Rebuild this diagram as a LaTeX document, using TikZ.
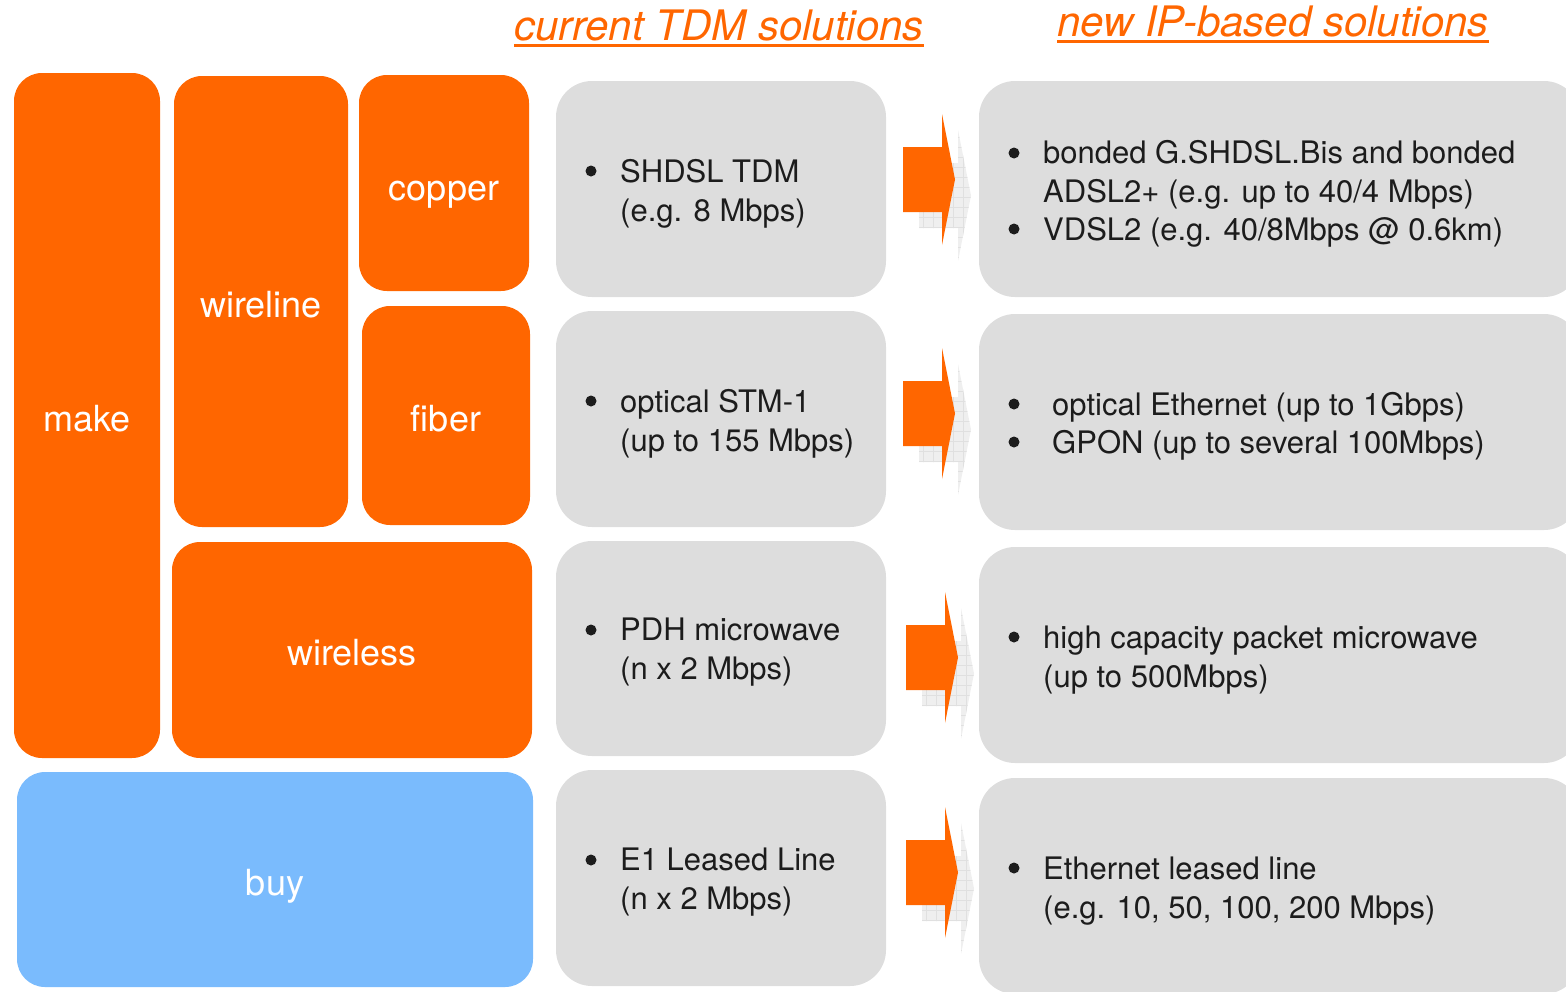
\documentclass[tikz,border=0pt]{standalone}
\usepackage{fontspec}
\setmainfont{TeX Gyre Heros}
\definecolor{brand}{HTML}{FF6600}
\definecolor{cardgray}{HTML}{DDDDDD}
\definecolor{skyblue}{HTML}{7ABBFD}
\definecolor{ink}{HTML}{1C1C1C}
\definecolor{ghost}{HTML}{EFEFEF}
\definecolor{ghostline}{HTML}{E0E0E0}
\tikzset{
  % fixed text height/depth so each label's baseline sits 15.5pt below the centre
  tile/.style={inner sep=0pt, rounded corners=28pt, fill=brand, text=white,
               text height=31pt, text depth=0pt,
               font=\fontsize{36}{40}\selectfont},
  card/.style={inner sep=0pt, rounded corners=36pt, fill=cardgray},
  % multi-line nodes: the base anchor sits on the last line
  body/.style={anchor=base west, align=left, text=ink, inner sep=0pt,
               font=\fontsize{31}{38.5}\selectfont},
  dot/.style={circle, fill=ink, inner sep=0pt, minimum size=11pt},
  head/.style={anchor=base west, text=brand, inner sep=0pt,
               font=\fontsize{42}{46}\selectfont\itshape},
  rule/.style={draw=brand, line width=3pt},
}
% block arrow with a faint checkered shadow; #1 = left x, #2 = top of shaft
\newcommand\fatarrow[2]{%
  \begin{scope}[shift={(#1,#2)}]
    \path[fill=ghost] (16,16) -- (55,16) -- (55,-17) -- (68,48.5) -- (55,114)
      -- (55,81) -- (16,81) -- cycle;
    \begin{scope}
      \clip (16,16) -- (55,16) -- (55,-17) -- (68,48.5) -- (55,114)
        -- (55,81) -- (16,81) -- cycle;
      \draw[ghostline, line width=0.6pt, step=10pt] (10,-20) grid (70,120);
    \end{scope}
    \path[fill=brand] (0,0) -- (39,0) -- (39,-33) -- (52,32.5) -- (39,98)
      -- (39,65) -- (0,65) -- cycle;
  \end{scope}}
\begin{document}
\begin{tikzpicture}[x=1pt, y=-1pt]
\useasboundingbox (0,0) rectangle (1566,991);
\clip (0,0) rectangle (1566,991);

% column headers
\node[head] (hcur) at (514,40) {current TDM solutions};
\draw[rule] ([yshift=-5pt]hcur.base west) -- ([yshift=-5pt]hcur.base east);
\node[head] (hnew) at (1057,36) {new IP-based solutions};
\draw[rule] ([yshift=-5pt]hnew.base west) -- ([yshift=-5pt]hnew.base east);

% make / buy tree
\node[tile, minimum width=146pt, minimum height=685pt] (make) at (87,415.5) {make};
\node[tile, minimum width=174pt, minimum height=451pt] (wireline) at (261,301.5) {wireline};
\node[tile, text height=34pt, minimum width=170pt, minimum height=216pt] (copper) at (444,183) {copper};
\node[tile, minimum width=168pt, minimum height=219pt] (fiber) at (446,415.5) {fiber};
\node[tile, minimum width=360pt, minimum height=216pt] (wireless) at (352,650) {wireless};
\node[tile, fill=skyblue, minimum width=516pt, minimum height=215pt] (buy) at (275,879.5) {buy};

% current solutions
\node[card, minimum width=330pt, minimum height=216pt] (cur1) at (721,189) {};
\node[card, minimum width=330pt, minimum height=216pt] (cur2) at (721,419) {};
\node[card, minimum width=330pt, minimum height=215pt] (cur3) at (721,648.5) {};
\node[card, minimum width=330pt, minimum height=216pt] (cur4) at (721,878) {};

% new solutions
\node[card, minimum width=601pt, minimum height=216pt] (new1) at (1279.5,189) {};
\node[card, minimum width=601pt, minimum height=216pt] (new2) at (1279.5,422) {};
\node[card, minimum width=601pt, minimum height=216pt] (new3) at (1279.5,655) {};
\node[card, minimum width=601pt, minimum height=216pt] (new4) at (1279.5,886) {};

% migration arrows
\fatarrow{903}{147}
\fatarrow{903}{381}
\fatarrow{906}{625}
\fatarrow{906}{840}

% bullet texts, current
\node[dot] (c1b) at (591,171) {};
\node[body] (c1t) at (620,221) {SHDSL TDM\\(e.g. 8 Mbps)};
\node[dot] (c2b) at (591,401) {};
\node[body] (c2t) at (620,451) {optical STM-1\\(up to 155 Mbps)};
\node[dot] (c3b) at (591,630) {};
\node[body] (c3t) at (620,679) {PDH microwave\\(n x 2 Mbps)};
\node[dot] (c4b) at (591,860) {};
\node[body] (c4t) at (620,909) {E1 Leased Line\\(n x 2 Mbps)};

% bullet texts, new
\node[dot] (n1b) at (1014,153) {};
\node[body] (n1t) at (1043,202) {bonded G.SHDSL.Bis and bonded\\ADSL2+ (e.g. up to 40/4 Mbps)};
\node[dot] (n1c) at (1014,229) {};
\node[body] (n1u) at (1043,240) {VDSL2 (e.g. 40/8Mbps @ 0.6km)};
\node[dot] (n2b) at (1014,404) {};
\node[body] (n2t) at (1052,415) {optical Ethernet (up to 1Gbps)};
\node[dot] (n2c) at (1014,442) {};
\node[body] (n2u) at (1052,453) {GPON (up to several 100Mbps)};
\node[dot] (n3b) at (1014,637) {};
\node[body] (n3t) at (1043,687) {high capacity packet microwave\\(up to 500Mbps)};
\node[dot] (n4b) at (1014,868) {};
\node[body] (n4t) at (1043,918) {Ethernet leased line\\(e.g. 10, 50, 100, 200 Mbps)};
\end{tikzpicture}
\end{document}
